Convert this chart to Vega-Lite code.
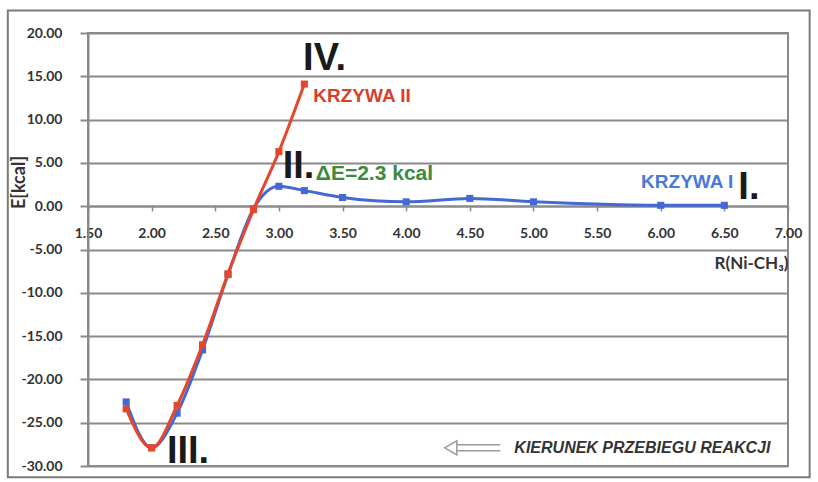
{
  "$schema": "https://vega.github.io/schema/vega-lite/v6.json",
  "width": 700,
  "height": 433,
  "autosize": {"type": "none"},
  "padding": {"left": 88, "top": 33, "right": 30, "bottom": 16},
  "background": "white",
  "config": {
    "view": {"stroke": "#8a8a8a", "strokeWidth": 2},
    "font": "Liberation Sans"
  },
  "data": {"values": [{}]},
  "datasets": {
    "curves": [
      {"curve": "KRZYWA I", "r": 1.8, "e": -22.6},
      {"curve": "KRZYWA I", "r": 2.0, "e": -27.9},
      {"curve": "KRZYWA I", "r": 2.2, "e": -23.9},
      {"curve": "KRZYWA I", "r": 2.4, "e": -16.6},
      {"curve": "KRZYWA I", "r": 2.6, "e": -7.9},
      {"curve": "KRZYWA I", "r": 2.8, "e": -0.3},
      {"curve": "KRZYWA I", "r": 3.0, "e": 2.3},
      {"curve": "KRZYWA I", "r": 3.2, "e": 1.8},
      {"curve": "KRZYWA I", "r": 3.5, "e": 1.0},
      {"curve": "KRZYWA I", "r": 4.0, "e": 0.5},
      {"curve": "KRZYWA I", "r": 4.5, "e": 0.9},
      {"curve": "KRZYWA I", "r": 5.0, "e": 0.5},
      {"curve": "KRZYWA I", "r": 6.0, "e": 0.1},
      {"curve": "KRZYWA I", "r": 6.5, "e": 0.1},
      {"curve": "KRZYWA II", "r": 1.8, "e": -23.4},
      {"curve": "KRZYWA II", "r": 2.0, "e": -27.9},
      {"curve": "KRZYWA II", "r": 2.2, "e": -23.0},
      {"curve": "KRZYWA II", "r": 2.4, "e": -16.0},
      {"curve": "KRZYWA II", "r": 2.6, "e": -7.8},
      {"curve": "KRZYWA II", "r": 2.8, "e": -0.4},
      {"curve": "KRZYWA II", "r": 3.0, "e": 6.3},
      {"curve": "KRZYWA II", "r": 3.2, "e": 14.1}
    ]
  },
  "layer": [
    {
      "mark": {"type": "rect", "fill": null, "stroke": "#7a7a7a", "strokeWidth": 2, "clip": false},
      "encoding": {
        "x": {"datum": 0.87, "type": "quantitative", "scale": {"domain": [1.5, 7]}},
        "x2": {"datum": 7.17},
        "y": {"datum": 22.6, "type": "quantitative", "scale": {"domain": [-30, 20]}},
        "y2": {"datum": -31.3}
      }
    },
    {
      "data": {"name": "curves"},
      "transform": [{"filter": "datum.curve === 'KRZYWA I'"}],
      "mark": {
        "type": "line",
        "interpolate": "monotone",
        "color": "#4468d4",
        "strokeWidth": 3,
        "point": {"shape": "square", "size": 50, "filled": true, "color": "#4468d4"}
      },
      "encoding": {
        "x": {
          "field": "r",
          "type": "quantitative",
          "scale": {"domain": [1.5, 7], "nice": false, "zero": false},
          "axis": {
            "values": [1.5, 2, 2.5, 3, 3.5, 4, 4.5, 5, 5.5, 6, 6.5, 7],
            "labelExpr": "replace(format(datum.value, '.2f'), '−', '-')",
            "offset": -260,
            "grid": false,
            "domainColor": "#8a8a8a",
            "domainWidth": 2,
            "tickColor": "#8a8a8a",
            "tickSize": 5,
            "tickWidth": 1.5,
            "labelFont": "Lato",
            "labelFontWeight": "bold",
            "labelFontSize": 14,
            "labelColor": "#333333",
            "labelPadding": 15,
            "labelFlush": false,
            "labelOverlap": false,
            "title": "R(Ni-CH₃)",
            "titleFont": "Lato",
            "titleFontWeight": "bold",
            "titleFontSize": 17,
            "titleColor": "#333333",
            "titleAnchor": "end",
            "titlePadding": 15
          }
        },
        "y": {
          "field": "e",
          "type": "quantitative",
          "scale": {"domain": [-30, 20], "nice": false},
          "axis": {
            "values": [-30, -25, -20, -15, -10, -5, 0, 5, 10, 15, 20],
            "labelExpr": "replace(format(datum.value, '.2f'), '−', '-')",
            "grid": true,
            "gridColor": "#8a8a8a",
            "gridWidth": 2,
            "domainColor": "#8a8a8a",
            "domainWidth": 2,
            "tickColor": "#8a8a8a",
            "tickSize": 8,
            "tickWidth": 2,
            "labelFont": "Lato",
            "labelFontWeight": "bold",
            "labelFontSize": 14,
            "labelColor": "#333333",
            "labelPadding": 18,
            "title": "E[kcal]",
            "titleFont": "Lato",
            "titleFontWeight": "bold",
            "titleFontSize": 18,
            "titleColor": "#333333",
            "titleX": -69,
            "titleY": 149,
            "titleAlign": "center",
            "titleBaseline": "middle"
          }
        }
      }
    },
    {
      "data": {"name": "curves"},
      "transform": [{"filter": "datum.curve === 'KRZYWA II'"}],
      "mark": {
        "type": "line",
        "interpolate": "monotone",
        "color": "#e4472b",
        "strokeWidth": 3,
        "point": {"shape": "square", "size": 50, "filled": true, "color": "#e4472b"}
      },
      "encoding": {
        "x": {"field": "r", "type": "quantitative"},
        "y": {"field": "e", "type": "quantitative"}
      }
    },
    {
      "mark": {"type": "text", "text": "IV.", "align": "left", "baseline": "alphabetic", "font": "Liberation Sans", "fontWeight": "bold", "fontSize": 38, "color": "#1a1a1a"},
      "encoding": {"x": {"datum": 3.19, "type": "quantitative"}, "y": {"datum": 15.7, "type": "quantitative"}}
    },
    {
      "mark": {"type": "text", "text": "KRZYWA II", "align": "left", "baseline": "alphabetic", "font": "Liberation Sans", "fontWeight": "bold", "fontSize": 19, "color": "#d9402a"},
      "encoding": {"x": {"datum": 3.27, "type": "quantitative"}, "y": {"datum": 12.0, "type": "quantitative"}}
    },
    {
      "mark": {"type": "text", "text": "II.", "align": "left", "baseline": "alphabetic", "font": "Liberation Sans", "fontWeight": "bold", "fontSize": 38, "color": "#1a1a1a"},
      "encoding": {"x": {"datum": 3.03, "type": "quantitative"}, "y": {"datum": 3.2, "type": "quantitative"}}
    },
    {
      "mark": {"type": "text", "text": "ΔE=2.3 kcal", "align": "left", "baseline": "alphabetic", "font": "Liberation Sans", "fontWeight": "bold", "fontSize": 21, "color": "#3d8a3d"},
      "encoding": {"x": {"datum": 3.29, "type": "quantitative"}, "y": {"datum": 3.0, "type": "quantitative"}}
    },
    {
      "mark": {"type": "text", "text": "KRZYWA I", "align": "right", "baseline": "alphabetic", "font": "Liberation Sans", "fontWeight": "bold", "fontSize": 19, "color": "#4a78d8"},
      "encoding": {"x": {"datum": 6.57, "type": "quantitative"}, "y": {"datum": 2.1, "type": "quantitative"}}
    },
    {
      "mark": {"type": "text", "text": "I.", "align": "left", "baseline": "alphabetic", "font": "Liberation Sans", "fontWeight": "bold", "fontSize": 38, "color": "#1a1a1a"},
      "encoding": {"x": {"datum": 6.61, "type": "quantitative"}, "y": {"datum": 0.8, "type": "quantitative"}}
    },
    {
      "mark": {"type": "text", "text": "III.", "align": "left", "baseline": "alphabetic", "font": "Liberation Sans", "fontWeight": "bold", "fontSize": 38, "color": "#1a1a1a"},
      "encoding": {"x": {"datum": 2.12, "type": "quantitative"}, "y": {"datum": -29.6, "type": "quantitative"}}
    },
    {
      "mark": {"type": "rule", "color": "#9a9a9a", "strokeWidth": 1.5},
      "encoding": {"x": {"datum": 4.4, "type": "quantitative"}, "x2": {"datum": 4.74}, "y": {"datum": -27.55, "type": "quantitative"}}
    },
    {
      "mark": {"type": "rule", "color": "#9a9a9a", "strokeWidth": 1.5},
      "encoding": {"x": {"datum": 4.4, "type": "quantitative"}, "x2": {"datum": 4.74}, "y": {"datum": -28.25, "type": "quantitative"}}
    },
    {
      "mark": {"type": "point", "shape": "triangle-left", "size": 200, "filled": true, "fill": "white", "stroke": "#9a9a9a", "strokeWidth": 1.5, "opacity": 1},
      "encoding": {"x": {"datum": 4.35, "type": "quantitative"}, "y": {"datum": -27.9, "type": "quantitative"}}
    },
    {
      "mark": {"type": "text", "text": "KIERUNEK PRZEBIEGU REAKCJI", "align": "left", "baseline": "alphabetic", "font": "Liberation Sans", "fontWeight": "bold", "fontStyle": "italic", "fontSize": 16, "color": "#333333"},
      "encoding": {"x": {"datum": 4.85, "type": "quantitative"}, "y": {"datum": -28.5, "type": "quantitative"}}
    }
  ]
}
